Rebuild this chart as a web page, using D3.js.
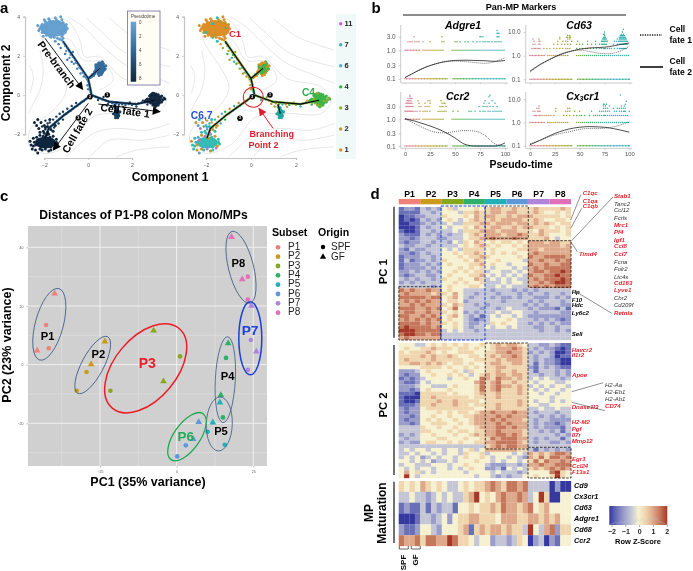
<!DOCTYPE html>
<html><head><meta charset="utf-8">
<script src="https://cdn.jsdelivr.net/npm/d3@7"></script>
<style>
html,body{margin:0;padding:0;background:#fff}
svg{display:block}
text{font-family:"Liberation Sans",Arial,sans-serif}
</style></head><body><svg id="c" width="693" height="571"></svg>
<script>
// ---------- DATA: panel a (trajectory, data coordinates) ----------
const topBlobPts=[[-2.1,3.6],[-2,3.85],[-1.8,3.9],[-1.5,3.95],[-1.2,3.85],[-1,3.6],[-.95,3.4],[-1.05,3.2],[-1.2,3.0],[-1.4,2.9],[-1.7,2.95],[-1.9,3.05],[-2.1,3.2],[-2.2,3.4],[-1.9,3.6],[-1.6,3.75],[-1.3,3.6],[-1.1,3.45],[-1.3,3.15],[-1.6,3.05],[-1.85,3.25],[-2.3,3.55],[-2.05,3.0],[-1.15,2.9],[-1.5,2.75],[-1.75,3.8],[-1.35,3.75],[-1.25,4.0],[-2.05,3.45],[-1.95,3.75],[-1.85,3.1],[-1.7,3.65],[-1.45,3.85],[-1.15,3.7],[-1.05,3.5],[-1.1,3.3],[-1.25,3.25],[-2.15,3.5],[-2.0,3.2],[-1.55,2.95],[-1.3,2.85],[-1.75,3.0],[-1.9,3.45],[-2.25,3.3],[-1.15,3.1]];
const topArmPts=[[-1.2,2.8],[-1.1,2.65],[-1.05,2.5],[-.95,2.4],[-1,2.25],[-.85,2.2],[-.8,2.05],[-.7,1.95],[-.85,1.9],[-.6,1.8],[-.55,1.65],[-.65,1.6],[-.45,1.55],[-.4,1.4],[-.5,1.35],[-.3,1.3],[-.25,1.15],[-.35,1.1],[-.15,1.05],[-.1,.9],[-.2,.95],[-.05,.8],[0,.7],[.05,.55],[-.03,.5],[.08,.4],[.1,.25],[0,.3],[.12,.15],[-1.25,2.4],[-1.35,2.6],[-1.05,2.1],[-.95,1.8],[-.75,1.7],[-.7,2.2]];
const sideBlobPts=[[.35,1.3],[.3,1.1],[.45,1.1],[.6,1.05],[.75,1.3],[.8,1.5],[.7,1.6],[.5,1.65],[.4,1.5],[.35,1.55],[.65,1.7],[.25,1.0],[.15,.95],[.1,.9],[.35,1.45],[.45,1.6],[.6,1.65],[.72,1.45],[.78,1.35],[.3,1.2],[.5,1.0],[.65,1.15],[.2,1.05]];
const fate1ArmPts=[[.2,-.02],[.35,-.1],[.5,-.15],[.65,-.22],[.8,-.28],[.95,-.35],[1.1,-.42],[1.25,-.45],[1.4,-.48],[1.55,-.47],[1.7,-.5],[1.85,-.46],[2.0,-.5],[2.15,-.45],[2.3,-.42],[2.45,-.38],[2.6,-.36],[2.75,-.3],[.45,-.25],[.9,-.45],[1.3,-.38],[1.6,-.6],[1.9,-.38],[2.2,-.58],[2.5,-.28],[2.7,-.48],[1.05,-.58],[.7,-.1]];
const c4BlobPts=[[2.7,-.2],[2.8,-.05],[2.85,-.4],[2.9,.05],[3.0,.1],[3.1,-.55],[3.25,-.4],[3.3,-.1],[3.4,-.25],[3.5,-.2],[3.2,.02],[2.95,-.5],[3.35,-.35],[2.6,-.3],[2.8,-.2],[2.85,-.3],[2.85,.0],[3.0,-.5],[3.1,.05],[3.2,-.5],[3.25,-.3],[3.3,-.2],[3.35,-.05],[3.45,-.15],[2.75,-.35],[2.65,-.25],[2.95,.1],[3.15,-.45],[3.05,-.6]];
const tealBlobPts=[[1.2,-.6],[1.3,-.65],[1.15,-.95],[1.4,-1.05],[1.25,-1.15],[1.45,-.85],[1.35,-1.15],[1.3,-1.0]];
const fate2ArmPts=[[0,-.1],[-.1,-.2],[-.2,-.3],[-.3,-.35],[-.4,-.45],[-.5,-.55],[-.6,-.6],[-.7,-.7],[-.8,-.8],[-.9,-.85],[-1,-.95],[-1.1,-1],[-1.2,-1.1],[-1.3,-1.2],[-1.4,-1.3],[-1.5,-1.4],[-1.6,-1.5],[-1.7,-1.6],[-1.8,-1.7],[-.55,-.4],[-.75,-.55],[-.95,-.7],[-1.15,-.85],[-1.3,-.95],[-1.45,-1.1],[-1.6,-1.25],[-1.75,-1.4],[-1.15,-1.25],[-1.35,-1.45],[-1.55,-1.65],[-1.85,-1.45],[-1.95,-1.3],[-2.1,-1.6],[-1.95,-1.75]];
const c67BlobPts=[[-2.5,-2.2],[-2.6,-2.55],[-2.4,-2.8],[-2.3,-2.95],[-2.1,-2.8],[-1.8,-2.85],[-1.55,-2.7],[-1.4,-2.5],[-1.45,-2.25],[-1.6,-2.1],[-1.8,-2],[-2,-1.95],[-2.2,-2.05],[-2.3,-2.3],[-2.45,-2.4],[-2.55,-2.75],[-2.65,-2.35],[-2.15,-2.65],[-1.7,-2.65],[-1.9,-2.2],[-1.85,-1.9],[-1.75,-2.15],[-2.3,-1.25],[-2.15,-1.4],[-2,-1.55],[-1.85,-1.6],[-1.7,-1.75],[-2.25,-1.7],[-2.05,-1.85],[-1.6,-1.85],[-1.5,-1.55],[-2.35,-1.55],[-2.2,-1.9],[-1.9,-2.05],[-2.05,-2.1],[-1.65,-2.3],[-1.45,-2.4],[-2.4,-2.55],[-2.35,-2.15],[-2.5,-2.6],[-2.2,-2.75],[-1.95,-2.75],[-1.7,-2.8],[-1.6,-2.5],[-1.5,-2.6],[-1.95,-1.65],[-1.75,-1.25],[-2.45,-1.4]];
const treeEdges=[[[-1.15,2.75],[0,.85],[.15,.05]],[[0,.85],[.53,1.36]],[[.15,0],[.98,-.34],[2.2,-.46],[3.03,-.26]],[[1.2,-.46],[1.3,-.94]],[[.15,0],[-1.07,-1],[-1.8,-1.7],[-1.96,-2.2]]];
const contourLines=[
[[-2.27,3.41],[-1.97,3.83],[-.98,3.83],[-.38,2.81],[-.15,1.96],[.53,1.96],[1.59,.85],[3.1,.43],[3.56,-.26],[3.1,-.94],[1.59,-.94],[.23,-1.1],[-.83,-2.47],[-1.89,-2.98],[-2.65,-2.64],[-2.65,-1.79],[-1.44,-.6],[-.98,.43],[-2.05,2.64],[-2.27,3.41]],
[[-.91,4.0],[-.23,3.49],[.53,2.64],[1.59,1.62],[2.8,1.02],[3.71,.6]],
[[-.05,3.92],[.68,3.15],[1.74,2.13],[3.71,1.45]],
[[.98,3.92],[2.05,2.98],[3.71,2.3]],
[[-2.2,2.3],[-2.05,1.28],[-2.2,.26],[-2.5,-.43],[-2.73,-.94]],
[[-2.68,1.53],[-2.5,.94],[-2.65,.09]],
[[-.98,-3.15],[.23,-1.96],[1.29,-1.7],[2.65,-1.79],[3.71,-1.45]],
[[.08,-3.15],[.98,-2.3],[2.5,-2.3],[3.71,-2.04]],
[[1.29,-3.15],[2.2,-2.81],[3.71,-2.64]],
[[-1.59,2.98],[-.83,2.81],[-.23,1.79],[.68,1.7],[1.14,.77],[.53,.26]]];
const pseudotimeTicks=[0,2,4,6,8];
const clusterLegend=["11","7","6","4","3","2","1"];
const clusterLegendColors=["#c866c8","#4fa8c8","#55a8d8","#35b040","#8fb030","#b8a020","#dc8f26"];

// ---------- DATA: panel b ----------
const zeroRowGap=[0,1.5,3,4.5,6,7.5,9,10.5,12,13.5,15,16.5,18,19.5,21,22.5,24,25.5,27,28.5,30,31.5,33,34.5,36,37.5,39,40.5,42,48,49.5,51,52.5,54,55.5,57,58.5,60,61.5,63,64.5,66,67.5,69,70.5,72,73.5,75,76.5,78,79.5,81,82.5,84,85.5,87,88.5,90,91.5,93,94.5,96,97.5,99,100];
const levelOneRow=[0,1,2.5,4,5.5,7,8.5,10,11.5,13,14.5,18,20,22,24,26,28,30,32,34,36,38,47,49,51,53,55,57,59,61,63,65,67,69,71,73,75,77,79,81,83,85,87,89,91,93,95,97,99];
const adgre1Levels=[[.1,zeroRowGap],[1,levelOneRow],[2,[3,5,7,10,12,14,18,25,37,39,50,52,55,60,63,68,72,75,78,80,82,84,87,90,92,94,96]],[3,[9,37,75,76,78,92,93,94]],[4,[92,93,94]],[5,[92]]];
const cd63Levels=[[.1,zeroRowGap],[1,levelOneRow],[2,[2,4,5,6,8,9,10,14,17,20,24,27,30,33,36,38,40,47,50,53,56,58,61,64,67,70,72,74,75,76,78,80,82,85,88,90,91,92,93,94,95,96,97]],[3,[3,5,9,10,24,28,32,35,38,41,47,50,53,58,62,66,70,72,73,74,75,76,77,84,88,90,91,92,93,94,95,96,97,98]],[4,[4,9,10,28,33,36,38,42,48,58,66,72,73,74,75,76,77,78,85,87,89,90,91,92,93,94,95,96,97,98]],[5,[3,9,30,38,40,73,74,75,76,77,88,90,91,92,93,94,95,96,97]],[6,[30,37,38,40,41,74,75,76,90,91,92,93,94,95,96]],[7,[38,40,75,91,92,93,94,95]],[8,[74,75,92,94]],[10,[75,93]],[13,[94]]];
const ccr2Levels=[[.1,zeroRowGap],[1,levelOneRow],[2,[0,1,2,3,4,5,6,7,8,10,12,15,18,20,22,25,33,35,37,39,41,48,53,64,66,70,75,78,80,83,85,88,90,92,94,96]],[3,[1,2,3,4,5,6,7,8,14,16,20,22,24,35,37,38,41,74,78,80,82,85,88,92]],[4,[1,2,3,4,5,6,7,14,20,25,37,39,40,79,84,90]],[5,[2,3,4,5,6,13,23,25,36,80,87]],[6,[3,5,6,7]],[7,[5,84]],[8,[5,85]]];
const cx3cr1Levels=[[.1,zeroRowGap],[1,levelOneRow],[2,[4,5,6,7,9,10,11,13,15,17,19,21,24,34,37,40,44,47,50,52,55,60,64,66,68,70,72,74,75,76,78,80,82,84,86,88,90,92,94,96,98]],[3,[3,5,8,9,10,26,36,38,40,45,50,62,70,72,74,76,78,80,85,87,90,92,94,95,96,100]],[4,[7,9,26,38,40,74,76,78,84,88,90,92,94,96]],[5,[9,74,76,80,92,95]],[6,[74,75,77,96]],[8,[97]],[15,[91]]];
const curveX=[0,10,20,30,40,50,60,70,80,90,100];
const adgre1Fate2=[.11,.17,.25,.33,.4,.44,.45,.44,.43,.41,.44];
const adgre1Fate1=[.11,.17,.25,.33,.4,.42,.4,.37,.35,.4,.55];
const cd63Fate2=[.22,.42,.7,1.1,1.5,1.85,2.1,2.2,2.4,2.9,3.4];
const cd63Fate1=[.2,.4,.68,1.05,1.45,1.7,1.5,1.25,1.2,1.5,2.5];
const ccr2Fate2=[1.05,.85,.65,.48,.33,.2,.115,.1,.1,.1,.13];
const ccr2Fate1=[1.05,.68,.45,.33,.31,.35,.38,.36,.25,.12,.1];
const cx3cr1Fate2=[.11,.17,.27,.4,.53,.62,.66,.64,.58,.48,.38];
const cx3cr1Fate1=[.12,.17,.25,.33,.4,.5,.55,.55,.6,.75,1.1];
const pseudoTicks=[0,25,50,75,100];

// ---------- DATA: panel c ----------
const subsets=["P1","P2","P3","P4","P5","P6","P7","P8"];
const subsetColors=["#f0807a","#c99a1e","#86a81e","#2eb06a","#22b0b8","#5f97d8","#b184dc","#e070b8"];
const pc1=[-39.8,-42.6,-41.7,-45.5,-23.4,-27.9,-29.4,-32.6,-7.5,1.1,-4.3,-21.6,16.8,16.1,14.4,15.1,14.1,11.8,10.1,15.7,7.2,5.4,3,.2,24.4,24.2,26,23.2,17.9,21.4,23.2,23.2];
const pc2=[24.2,13.5,5.6,4.8,7.9,.1,-2.5,-8.9,11.6,2.8,-5.7,-8.9,7.3,2.3,-10.4,-18,-12.9,-19.7,-22.9,-27.3,-19.6,-25.4,-27.5,-31.3,20.1,8.4,4.5,-1.8,43.5,29.1,30,22.2];
const subsetIndex=[0,0,0,0,1,1,1,1,2,2,2,2,3,3,3,3,4,4,4,4,5,5,5,5,6,6,6,6,7,7,7,7];
const originIndex=[1,0,0,1,1,1,0,0,1,0,1,0,1,0,1,0,1,1,0,0,1,1,0,0,1,0,1,0,1,1,0,0];
const origins=["SPF","GF"];

// ---------- DATA: panel d (z-score level per cell: 0=-2 ... 4=0 ... 8=+2) ----------
const pc1Rows=["12213232453444545665565556555565","11113323444355655665665556544545","01122333544454656655656665555545","01013232454345655656666556544554","00112323343355566566656656565455","00013233434454655665565665554545","10013323334355566656665554655545","21113232323345656665667655654445","22123332233345566766676655564344","21223323324354654545545466656655","32233233333454565454454566666656","21322333434355554544445566566666","22123233445455654545454467666666","12223323444545565444445476677776","13122323544454654454444366766767","12223232454445564544344476676677","12222323444545454344434367677777","22323232445454553443343467767787","21233223454445564343434376677877","32323323544544653434343367677787","23232333445454453334344366767887","33333323454445543343433367676777",
"76766766454433333233323232333333","67666656546433233323332323323323","77777677456432333232232332223232","67676766455423333332333323233323","66767666546533232333333232323322","77766767457433323323433323222131","67766766545423233343344332333322","77667676456432313434434322222222","67676767454432123444543332323212","77776766545432233545443323232322","78777767445432334344343332233233","88877777343433233333333333233232","78877677333333333333333333333333","67666666333333333333333333333333"];
const pc2Rows=["44433454545454454565665433223211","45445565554554544566676532322101","54555654544555445566766523232001","55556565565445545656676532332011","56555565555544555565666532322100","55665656545545445665566531322100","44445555454454545566555521323211","22234544445435445565565531333232","21224454454543456566566533233232","12123444434454476576656534343323","21124344444444675675565543444334","22234433345444575676656534343443","22124544454444575675556543434434","11105555545444565565556544344344","10005565555554555565555544443444","10015556556555545555556543443434","11125565556554555565556544334444","21224555555555445565555533433433","21224445454554566766676632333233","22124454454455666676766633232323","21224545445445666767666532332222","22124455544545666676766632322123","33335445445444566677676632322213","33335544454554556676666533232313","23234454445445656677676533333232","32334445544454455767776632323313","23224554454544556677776532332232","33333333333333335676776633333333","34344344344345346666665531323232","33434434344354453444434365656776","34342343443454454344343265757767","44343423343444544343443457576676","34433344434454443222332366766777","43434434434345442231434356567676","46453434444434444343332344447854","48434444444444344323233445445854"];
const maturationRows=["54546545433454556765776733330200","33433234343356845467667634850044","12113132331445455657665674564444","00013323424556655546665566565644","21124432444561565665655384367255","76675776687554344233235402302144"];
const maturationGenes=["Cd9","Cx3cr1","Cd63","Adgre1","Cd68","Ccr2"];
const heatPalette=["#35399f","#6a6fb8","#9a9dca","#c4c6d6","#f6f1d0","#efd6ae","#dea98a","#c5775c","#a53826"];
const zTicks=[-2,-1,0,1,2];
const zTrace=[.05,.1,.22,.12,.3,.18,.28,.12,.2,.3,.45,.3,.5,.25,.4,.7,.45,.6,.3,.2,.1,.05];

// ---------- helpers ----------
const outer=d3.select("#c");
const defs=outer.append("defs");
const blur=defs.append("filter").attr("id","soft").attr("filterUnits","userSpaceOnUse").attr("x",0).attr("y",0).attr("width",693).attr("height",571);
blur.append("feGaussianBlur").attr("stdDeviation",.35);
const svg=outer.append("g").attr("filter","url(#soft)");
svg.append("rect").attr("width",693).attr("height",571).attr("fill","#fff");
function marker(id,col){defs.append("marker").attr("id",id).attr("viewBox","0 0 10 10").attr("refX",9).attr("refY",5)
 .attr("markerUnits","userSpaceOnUse").attr("markerWidth",9).attr("markerHeight",8).attr("orient","auto")
 .append("path").attr("d","M0,0L10,5L0,10Z").attr("fill",col);}
marker("ak","#000");marker("ar","#e01f2a");
function T(t,x,y,o={}){
 const e=svg.append("text").text(t).attr("x",x).attr("y",y).attr("dominant-baseline","middle")
  .attr("font-size",o.s||8).attr("font-weight",o.w||"bold").attr("fill",o.c||"#000")
  .attr("text-anchor",o.a||"middle").attr("font-style",o.i?"italic":"normal");
 if(o.r) e.attr("transform",`rotate(${o.r} ${x} ${y})`);
 return e;}
function styleAxis(g,col,fs){g.selectAll("path,line").attr("stroke",col).attr("stroke-width",.6);
 g.selectAll("text").attr("font-size",fs).attr("fill","#555").attr("font-family","Liberation Sans");}

// ---------- panel a ----------
const ptColor=d3.scaleLinear().domain([0,4,8]).range(["#6ba6d6","#2e6597","#10263c"]);
const OR="#dc8f26",OL="#b59a2a",GR="#3bb54a",LG="#8fae2a",TE="#2bbcb0",BL="#5aa5d6",PU="#c070c8";
const groups=[
 {pts:topBlobPts,core:[-1.55,3.4,.62,.42],t:[.3,.6],coreCol:OR,cyc:[OR,OR,OR,TE,OR,OL,OR]},
 {pts:topArmPts,t:[1,3.4],cyc:[OR,GR,OL,TE,LG]},
 {pts:sideBlobPts,core:[.55,1.35,.24,.28],t:[3.6,3.6],coreCol:GR,cyc:[OR,OL,GR,OR]},
 {pts:fate1ArmPts,t:[4.2,7],cyc:[GR,OL,LG,TE,OR]},
 {pts:c4BlobPts,core:[3.05,-.22,.27,.3],t:[7.8,7.8],coreCol:GR,cyc:[GR,GR,LG]},
 {pts:tealBlobPts,core:[1.3,-.92,.14,.22],t:[6.5,6.5],coreCol:"#22a59e",cyc:["#22a59e"]},
 {pts:fate2ArmPts,t:[4.2,7.5],cyc:[TE,OR,GR,BL,OL]},
 {pts:c67BlobPts,core:[-1.95,-2.42,.48,.3],t:[8,8],coreCol:"#35bdb5",cyc:[TE,TE,OR,BL,TE,OL,PU]}];
function trajectory(x,y,colored,left){
 const g=svg.append("g");
 const line=d3.line().x(d=>x(d[0])).y(d=>y(d[1]));
 const curve=d3.line().x(d=>x(d[0])).y(d=>y(d[1])).curve(d3.curveCatmullRom);
 g.selectAll(".ct").data(contourLines).join("path").attr("d",curve).attr("fill","none").attr("stroke","#d6d6d6").attr("stroke-width",.6);
 g.selectAll(".arm").data(treeEdges).join("path").attr("d",line).attr("fill","none")
  .attr("stroke",colored?"#7d9a40":"#2e6597").attr("stroke-width",2.4);
 groups.forEach(G=>{
  if(G.core) g.append("ellipse").attr("cx",x(G.core[0])).attr("cy",y(G.core[1]))
   .attr("rx",Math.abs(x(G.core[2])-x(0))).attr("ry",Math.abs(y(G.core[3])-y(0)))
   .attr("fill",colored?G.coreCol:ptColor(G.t[0]));
  G.pts.forEach((p,i)=>{
   const c=colored?G.cyc[i%G.cyc.length]:ptColor(G.t[0]+(G.t[1]-G.t[0])*i/G.pts.length);
   g.append("circle").attr("cx",x(p[0])).attr("cy",y(p[1])).attr("r",G.core?1.5:1.2).attr("fill",c);
  });
 });
 g.selectAll(".tree").data(treeEdges).join("path").attr("d",line).attr("fill","none").attr("stroke","#000").attr("stroke-width",colored?1.1:.8);
 const ax=svg.append("g").attr("transform","translate(0,158)").call(d3.axisBottom(x).tickValues([-2,0,2]).tickSize(2).tickFormat(d=>d<0?"\u2212"+(-d):d));
 const ay=svg.append("g").attr("transform",`translate(${left},0)`).call(d3.axisLeft(y).tickValues([-2,0,2,4]).tickSize(2).tickFormat(d=>d<0?"\u2212"+(-d):d));
 [ax,ay].forEach(a=>{styleAxis(a,"#b8b8b8",5);a.select("path").attr("stroke-width",1.2).attr("stroke","#c4c4c4")});
}
const y_a=d3.scaleLinear().domain([-2,4]).range([134.3,16.7]);
svg.append("rect").attr("x",336).attr("y",14).attr("width",20).attr("height",145).attr("fill","#f1f8f8");
trajectory(d3.scaleLinear().domain([-2,2]).range([44.3,132]),y_a,false,25);
trajectory(d3.scaleLinear().domain([-2,2]).range([206,296]),y_a,true,184);
// pseudotime legend
const lg=defs.append("linearGradient").attr("id","pt").attr("x1",0).attr("x2",0).attr("y1",0).attr("y2",1);
lg.append("stop").attr("offset","0%").attr("stop-color","#6ba6d6");
lg.append("stop").attr("offset","50%").attr("stop-color","#2e6597");
lg.append("stop").attr("offset","100%").attr("stop-color","#10263c");
svg.append("rect").attr("x",127.5).attr("y",11).attr("width",32.5).attr("height",74).attr("fill","#fffdf4").attr("stroke","#8a86b8").attr("stroke-width",1);
svg.append("rect").attr("x",130.7).attr("y",21.7).attr("width",5.5).attr("height",60).attr("fill","url(#pt)");
T("Pseudotime",131,17,{s:4.6,w:"normal",a:"start",c:"#444"});
const ptY=d3.scaleLinear().domain([0,8]).range([23.3,79]);
pseudotimeTicks.forEach(v=>T(v,139,ptY(v),{s:4.5,w:"normal",a:"start",c:"#444"}));
// arrows and labels
function arrow(a,b,c,d,m,w){svg.append("line").attr("x1",a).attr("y1",b).attr("x2",c).attr("y2",d).attr("stroke",m=="ar"?"#e01f2a":"#000").attr("stroke-width",w||.9).attr("marker-end",`url(#${m})`);}
arrow(45,38.3,82.7,89.3,"ak");arrow(98.3,104,160,111.7,"ak");arrow(88.3,103.3,53.3,150,"ak");
T("Pre-branch",56,65,{s:10.5,r:53});T("Cell fate 1",125,111.5,{s:10.5,r:8});T("Cell fate 2",78,131,{s:10.5,r:-60});
function node(x,y,t){svg.append("circle").attr("cx",x).attr("cy",y).attr("r",2.8).attr("fill","#111");T(t,x,y+.2,{s:3.6,c:"#fff"});}
[[107.3,95,"1"],[90,96.7,"2"],[78.3,118,"3"],[270,95,"1"],[252.3,96.7,"2"],[240,118.3,"3"]].forEach(d=>node(...d));
svg.append("circle").attr("cx",253.3).attr("cy",97.3).attr("r",10).attr("fill","none").attr("stroke","#e01f2a").attr("stroke-width",1.1);
arrow(273,128.3,259,108.3,"ar",1);
T("C1",235,34.3,{s:9.5,c:"#e01f2a"});T("C4",308.5,93.3,{s:10.2,c:"#2faa4e"});T("C6,7",201.7,116.7,{s:10.3,c:"#2b50d8"});
T("Branching",271.7,135,{s:9,c:"#e01f2a"});T("Point 2",263.5,145.7,{s:9,c:"#e01f2a"});
T("Component 1",170,177.7,{s:12});T("Component 2",6.5,83,{s:12,r:-90});
const legY=d3.scalePoint().domain(d3.range(7)).range([23.7,150]);
clusterLegend.forEach((t,i)=>{svg.append("circle").attr("cx",340.7).attr("cy",legY(i)).attr("r",1.7).attr("fill",clusterLegendColors[i]);
 T(t,344.5,legY(i),{s:7.5,a:"start",c:"#222"});});
T("a",0,9,{s:15,a:"start"});T("b",376,9,{s:15});T("c",0,197,{s:15,a:"start"});T("d",375,195,{s:15});

// ---------- panel b ----------
const dotStops=d3.scaleLinear().domain([0,8,20,40,60,75,90,100]).range(["#ee7c74","#c77fd0","#cf9a20","#9aa620","#3db54a","#2bb5a0","#4aa5d5","#22b890"]);
const panels=[
 {name:"Adgre1",lv:adgre1Levels,f1:adgre1Fate1,f2:adgre1Fate2,x:[405,505],ax:400.7,y:[78.8,50.3],top:25,base:83,ty:[.1,.3,1,3],tx:463,tty:26,lab:false},
 {name:"Cd63",lv:cd63Levels,f1:cd63Fate1,f2:cd63Fate2,x:[530,629.3],ax:525.7,y:[79.3,55.6],top:25,base:83,ty:[.1,1,10],tx:579,tty:26,lab:false},
 {name:"Ccr2",lv:ccr2Levels,f1:ccr2Fate1,f2:ccr2Fate2,x:[405,505],ax:400.7,y:[146,119.3],top:92,base:148.3,ty:[.1,.3,1,3],tx:457.7,tty:97,lab:true},
 {name:"Cx3cr1",sub:true,lv:cx3cr1Levels,f1:cx3cr1Fate1,f2:cx3cr1Fate2,x:[530,629.3],ax:525.7,y:[145.7,122.4],top:92,base:148.3,ty:[.1,1,10],tx:582.7,tty:97,lab:true}];
panels.forEach(p=>{
 const x=d3.scaleLinear().domain([0,100]).range(p.x);
 const y=d3.scaleLog().domain([.1,1]).range(p.y);
 p.lv.forEach(([lev,xs])=>xs.forEach((v,i)=>{
  svg.append("circle").attr("cx",x(v)).attr("cy",y(lev)).attr("r",.75)
   .attr("fill",dotStops(Math.max(0,Math.min(100,v+[0,9,-8,4][i%4]))));
 }));
 const line=d3.line().x((d,i)=>x(curveX[i])).y(d=>y(d)).curve(d3.curveMonotoneX);
 svg.append("path").attr("d",line(p.f1)).attr("fill","none").attr("stroke","#333").attr("stroke-width",.7).attr("stroke-dasharray","1,1");
 svg.append("path").attr("d",line(p.f2)).attr("fill","none").attr("stroke","#222").attr("stroke-width",.8);
 const ay=svg.append("g").attr("transform",`translate(${p.ax},0)`).call(d3.axisLeft(y).tickValues(p.ty).tickSize(2).tickFormat(d3.format(".1f")));
 ay.select("path").attr("d",`M0,${p.top}V${p.base}`);
 styleAxis(ay,"#aaa",6.5);
 const ax=svg.append("g").attr("transform",`translate(0,${p.base})`).call(d3.axisBottom(x).tickValues(pseudoTicks).tickSize(p.lab?2:1).tickPadding(1.5).tickFormat(p.lab?d3.format("d"):""));
 ax.select("path").attr("d",`M${p.ax},0H${p.x[1]+3}`);
 styleAxis(ax,"#aaa",5.8);
 if(p.sub){
  const e=T("",p.tx,p.tty,{s:10.5,i:true});
  e.append("tspan").text("Cx");
  e.append("tspan").text("3").attr("dy",2).attr("font-size",7);
  e.append("tspan").text("cr1").attr("dy",-2);
 } else T(p.name,p.tx,p.tty,{s:10.5,i:true});
});
T("Pan-MP Markers",521,8,{s:9.1});
svg.append("line").attr("x1",403).attr("x2",626).attr("y1",15).attr("y2",15).attr("stroke","#000").attr("stroke-width",.9);
T("Pseudo-time",521,165,{s:10.5});
svg.append("line").attr("x1",640).attr("x2",662).attr("y1",35).attr("y2",35).attr("stroke","#111").attr("stroke-width",1.3).attr("stroke-dasharray","1.2,1.2");
svg.append("line").attr("x1",640).attr("x2",663).attr("y1",67).attr("y2",67).attr("stroke","#111").attr("stroke-width",1.6);
T("Cell",669.5,30,{s:8.6,a:"start"});T("fate 1",669.5,41,{s:8.6,a:"start"});T("Cell",669.5,62,{s:8.6,a:"start"});T("fate 2",669.5,73,{s:8.6,a:"start"});

// ---------- panel c ----------
const xC=d3.scaleLinear().domain([-25,25]).range([100,253.3]);
const yC=d3.scaleLinear().domain([-20,40]).range([423.3,247.3]);
svg.append("rect").attr("x",28).attr("y",226).attr("width",239).attr("height",240).attr("fill","#d0d0d0");
[-37.5,-12.5,12.5].forEach(v=>svg.append("line").attr("x1",xC(v)).attr("x2",xC(v)).attr("y1",226).attr("y2",466).attr("stroke","#e6e6e6").attr("stroke-width",.5));
[-30,-10,10,30].forEach(v=>svg.append("line").attr("y1",yC(v)).attr("y2",yC(v)).attr("x1",28).attr("x2",267).attr("stroke","#e6e6e6").attr("stroke-width",.5));
[-25,0,25].forEach(v=>svg.append("line").attr("x1",xC(v)).attr("x2",xC(v)).attr("y1",226).attr("y2",466).attr("stroke","#f7f7f7").attr("stroke-width",.8));
[-20,0,20,40].forEach(v=>svg.append("line").attr("y1",yC(v)).attr("y2",yC(v)).attr("x1",28).attr("x2",267).attr("stroke","#f7f7f7").attr("stroke-width",.8));
const axC=svg.append("g").attr("transform","translate(0,466)").call(d3.axisBottom(xC).tickValues([-25,0,25]).tickSize(1.5).tickFormat(d=>d<0?"\u2212"+(-d):d));
const ayC=svg.append("g").attr("transform","translate(28,0)").call(d3.axisLeft(yC).tickValues([-20,0,20,40]).tickSize(1.5).tickFormat(d=>d<0?"\u2212"+(-d):d));
[axC,ayC].forEach(a=>{styleAxis(a,"#999",3.5);a.select("path").remove();});
pc1.forEach((v,i)=>{
 const sym=d3.symbol().type(originIndex[i]?d3.symbolTriangle:d3.symbolCircle).size(originIndex[i]?20:17);
 svg.append("path").attr("d",sym()).attr("transform",`translate(${xC(v)},${yC(pc2[i])})`).attr("fill",subsetColors[subsetIndex[i]]);
});
[[49.3,324.3,14,37,15,"#3c5a8c",.8],[92.7,365,11,32,28,"#3c5a8c",.8],[145.7,368.3,31,52,40,"#ee1c25",1.5],[225.3,379.7,10,43,3,"#3c5a8c",.8],[219.3,424,13,27,2,"#3c5a8c",.8],[187,436.7,13,28,35,"#1fa84f",1.3],[250.3,338.3,11.5,36.5,0,"#1a3fd8",1.5],[241,267.3,12.5,37,-14,"#3c5a8c",.8]].forEach(e=>{
 svg.append("ellipse").attr("rx",e[2]).attr("ry",e[3]).attr("transform",`translate(${e[0]},${e[1]}) rotate(${e[4]})`).attr("fill","none").attr("stroke",e[5]).attr("stroke-width",e[6]);
});
[["P1",47.7,336.7,11.2,"#000"],["P2",98.3,355,11.2,"#000"],["P3",147.3,364,14,"#ee1c25"],["P4",227.7,376.7,11.2,"#000"],["P5",221,432.3,11.2,"#000"],["P6",185.7,437.3,13.4,"#22aa5a"],["P7",250,331,13.7,"#1a3fd8"],["P8",238.3,264,11.2,"#000"]].forEach(d=>T(d[0],d[1],d[2],{s:d[3],c:d[4]}));
T("Distances of P1-P8 colon Mono/MPs",143.5,216,{s:12.1});
T("PC1 (35% variance)",148,483,{s:12.5});
T("PC2 (23% variance)",7.5,345,{s:12.5,r:-90});
T("Subset",272,233,{s:10.6,a:"start"});
const legC=d3.scaleLinear().domain([0,7]).range([247.3,312.7]);
subsets.forEach((s,i)=>{svg.append("circle").attr("cx",278).attr("cy",legC(i)).attr("r",2.4).attr("fill",subsetColors[i]);
 T(s,288,legC(i),{s:10,w:"normal",a:"start",c:"#222"});});
T("Origin",318,233,{s:10.6,a:"start"});
origins.forEach((s,i)=>{const sym=d3.symbol().type(i?d3.symbolTriangle:d3.symbolCircle).size(i?18:15);
 svg.append("path").attr("d",sym()).attr("transform",`translate(323,${247+i*10})`).attr("fill","#000");
 T(s,331,247+i*10,{s:10,w:"normal",a:"start",c:"#222"});});

// ---------- panel d ----------
const heat=d3.scaleLinear().domain(d3.range(9)).range(heatPalette);
const xD=d3.scaleBand().domain(d3.range(32)).range([398.7,571]);
function heatBlock(rows,y0,y1){
 const y=d3.scaleBand().domain(d3.range(rows.length)).range([y0,y1]);
 rows.forEach((r,ri)=>[...r].forEach((ch,ci)=>{
  svg.append("rect").attr("x",xD(ci)).attr("y",y(ri)).attr("width",xD.bandwidth()+.15).attr("height",y.bandwidth()+.15).attr("fill",heat(+ch));
 }));
 return y;}
heatBlock(pc1Rows,207,340);heatBlock(pc2Rows,343,478);
const yM=heatBlock(maturationRows,481,546);
subsets.forEach((s,i)=>{
 svg.append("rect").attr("x",xD(i*4)).attr("y",199).attr("width",xD.bandwidth()*4).attr("height",5.3).attr("fill",subsetColors[i]);
 T(s,xD(i*4)+xD.bandwidth()*2,194.3,{s:8.7});
});
function dashed(a,b,c,d,col){svg.append("rect").attr("x",a).attr("y",b).attr("width",c-a).attr("height",d-b).attr("fill","none").attr("stroke",col||"#111").attr("stroke-width",col?1:.8).attr("stroke-dasharray",col?"3,1.5":"2.5,1.5");}
dashed(398.9,286.7,440.7,340);dashed(485.3,206,528.3,238.3);dashed(528.3,240.7,571,287.3);
dashed(441,206,485,340,"#1a3fd8");dashed(485.3,343,528,449);dashed(528,447.3,571,478);
[[206.7,337.7],[345,475],[481.7,543]].forEach(d=>svg.append("line").attr("x1",394).attr("x2",394).attr("y1",d[0]).attr("y2",d[1]).attr("stroke","#333").attr("stroke-width",1.4));
T("PC 1",384,271.7,{s:11.3,r:-90});T("PC 2",384,405,{s:11.3,r:-90});
T("MP",370,513,{s:12,r:-90});T("Maturation",383,513,{s:12,r:-90});
maturationGenes.forEach((g,i)=>T(g,574,yM(i)+yM.bandwidth()/2,{s:7.3,a:"start",i:true}));
const RED="#e8202a";
[["C1qc",582.7,193.3,1],["C1qa",582.7,201,1],["C1qb",582.7,206.7,1],
 ["Stab1",614,196,1],["Tanc2",614,204,0],["Ccl12",614,210,0],["Fcrls",614,218,0],["Mrc1",614,225.3,1],["Pf4",614,232.7,1],["Igf1",614,240.3,1],["Ccl8",614,246.7,1],["Ccl7",614,254.3,1],["Fcna",614,262,0],["Folr2",614,269.3,0],["Ltc4s",614,277,0],["Cd163",614,283.3,1],["Lyve1",614,290.7,1],["Cbr2",614,298.3,0],["Cd209f",614,305.7,0],["Retnla",614,313.3,1],["Timd4",579,254,1],
 ["Hp",571.7,292,2],["F10",571.7,300,2],["Hdc",571.7,305,2],["Ly6c2",571.7,313.7,2],["Sell",571.7,334.3,2],
 ["Havcr2",571.7,350,1],["Il1r2",571.7,355.7,1],["Apoe",572,375,1],["H2-Aa",605,385.3,0],["H2-Eb1",605,392.7,0],["H2-Ab1",605,399,0],["Dnase1l3",571.7,407.7,1],["CD74",605,406.7,1],["H2-M2",571.7,422.3,1],["Pgf",571.7,429,1],["Il7r",571.7,435.7,1],["Mmp12",571.7,441,1],["Egr1",572,459,1],["Ccl24",572,466.3,1],["F13a1",572,472.3,1]
].forEach(d=>T(d[0],d[1],d[2],{s:d[3]==0?6:6.1,a:"start",i:true,w:d[3]==0?"normal":"bold",c:d[3]==1?RED:d[3]==2?"#000":"#333"}));
[[570.7,220,580.7,195],[570.7,228.3,581.7,208.3],[570.7,241.7,613.3,196.7],[570.7,241.7,577.3,251.7],[573.3,290,611.7,313.3],[571.7,391.7,603.3,382.7],[571.7,402.3,605,410.7]].forEach(d=>
 svg.append("line").attr("x1",d[0]).attr("y1",d[1]).attr("x2",d[2]).attr("y2",d[3]).attr("stroke","#222").attr("stroke-width",.5));
// colour key
const zg=defs.append("linearGradient").attr("id","zg");
heatPalette.forEach((c,i)=>zg.append("stop").attr("offset",(i/8*100)+"%").attr("stop-color",c));
svg.append("rect").attr("x",609.3).attr("y",506).attr("width",58).attr("height",19).attr("fill","url(#zg)");
const xZ=d3.scaleLinear().domain([-2,2]).range([611.5,666.7]);
const zl=d3.scaleLinear().domain([0,zTrace.length-1]).range([610,667]);
svg.append("path").attr("d",d3.line().x((d,i)=>zl(i)).y(d=>525-d*12)(zTrace)).attr("fill","none").attr("stroke","#b9c3dc").attr("stroke-width",.5).attr("opacity",.8);
const az=svg.append("g").attr("transform","translate(0,525)").call(d3.axisBottom(xZ).tickValues(zTicks).tickSize(2).tickFormat(d=>d<0?"\u2212"+(-d):d));
az.select("path").remove();az.selectAll("line").attr("stroke","#555").attr("stroke-width",.5);
az.selectAll("text").attr("font-size",7).attr("font-weight","bold").attr("fill","#222").attr("dy","0.5em");
T("Row Z-Score",638,542,{s:7.5});
[[399.3,408.3],[411.3,420.3]].forEach(b=>svg.append("path").attr("d",`M${b[0]},546V549H${b[1]}V546`).attr("fill","none").attr("stroke","#222").attr("stroke-width",.7));
T("SPF",404,562.5,{s:8,r:-90});T("GF",416,560,{s:8,r:-90});
</script></body></html>
